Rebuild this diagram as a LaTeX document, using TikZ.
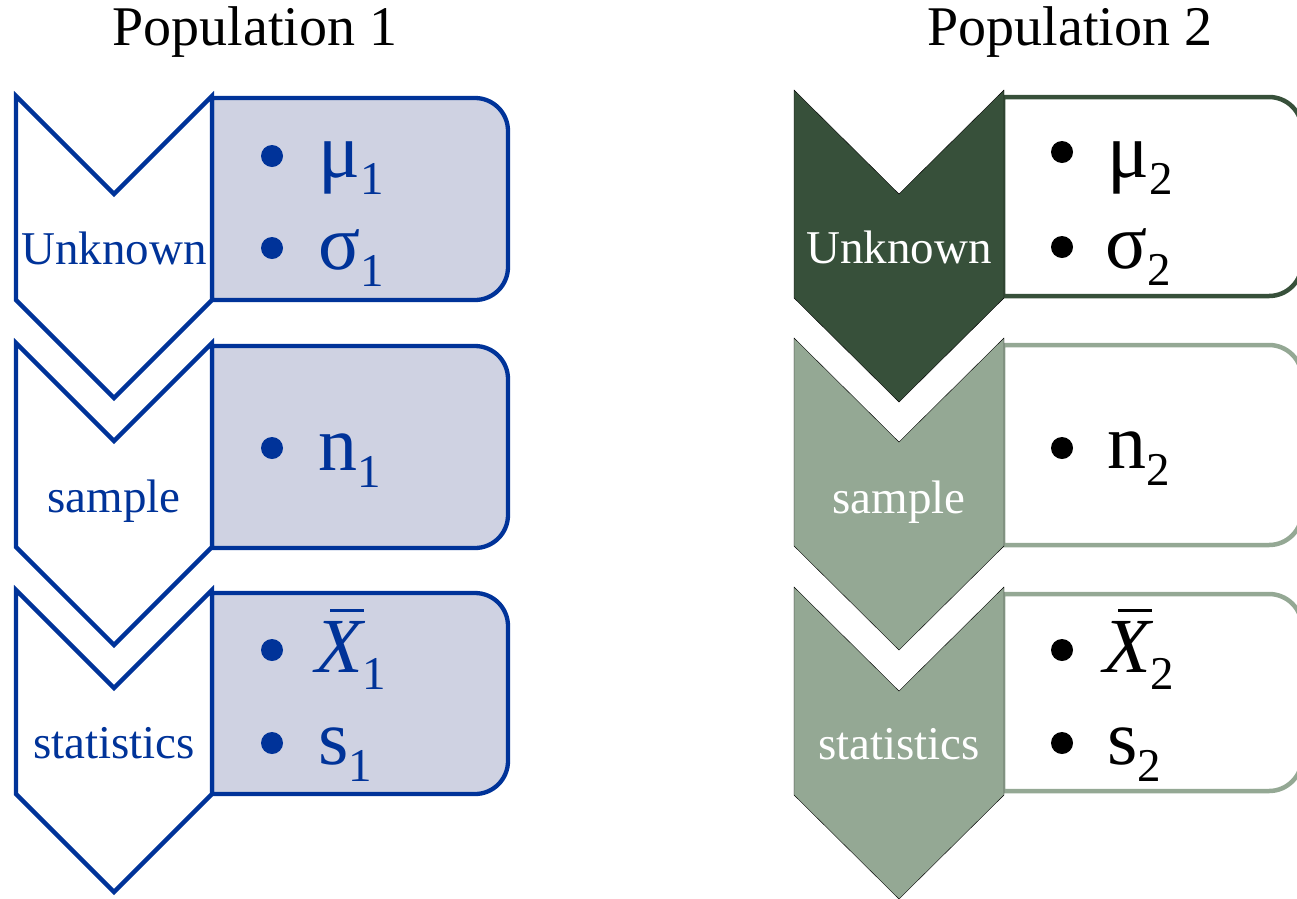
\documentclass[tikz,border=0pt]{standalone}
\usepackage{fontspec}
\setmainfont{Liberation Serif}

\definecolor{popblue}{RGB}{0,51,153}
\definecolor{popfill}{RGB}{207,210,226}
\definecolor{darkgreen}{RGB}{55,80,58}
\definecolor{lightgreen}{RGB}{148,168,148}

% lowered subscript digit
\newcommand{\lsub}[1]{\raisebox{-17pt}{\fontsize{47}{47}\selectfont #1}}
% italic X with a bar over it
\newcommand{\xbar}{\rlap{\hspace{15pt}\rule[60pt]{34pt}{3.5pt}}{\itshape X}}

% box with square left corners and rounded right corners
% #1 style, #2 left, #3 top, #4 right, #5 bottom
\newcommand{\sidebox}[5]{%
  \draw[#1] (#2,#3) -- ({#4-33},#3) arc[start angle=-90,end angle=0,radius=33]
    -- (#4,{#5-33}) arc[start angle=0,end angle=90,radius=33]
    -- (#2,#5) -- cycle;}

% downward chevron
% #1 style, #2 left, #3 right, #4 top, #5 depth, #6 side height
\newcommand{\chevron}[6]{%
  \draw[#1] (#2,#4) -- ({(#2+#3)/2},{#4+#5}) -- (#3,#4) -- (#3,{#4+#6})
    -- ({(#2+#3)/2},{#4+#6+#5}) -- (#2,{#4+#6}) -- cycle;}

\begin{document}
\begin{tikzpicture}[x=1pt,y=-1pt,
  bluechev/.style={draw=popblue,line width=4.3pt,fill=white,line join=miter},
  bluebox/.style={draw=popblue,line width=4.3pt,fill=popfill},
  darkchev/.style={fill=darkgreen},
  lightchev/.style={fill=lightgreen},
  darkbox/.style={draw=darkgreen,line width=4.5pt,fill=white},
  lightbox/.style={draw=lightgreen,line width=4.5pt,fill=white},
  chevlabel/.style={font=\fontsize{47}{47}\selectfont,anchor=base,inner sep=0pt},
  item/.style={font=\fontsize{78}{78}\selectfont,anchor=base west,inner sep=0pt},
  heading/.style={font=\fontsize{56}{56}\selectfont,anchor=base,inner sep=0pt},
]
\useasboundingbox (0,0) rectangle (1297,898);
\clip (0,0) rectangle (1297,898);

% headings
\node[heading] (title1) at (255,45) {Population 1};
\node[heading] (title2) at (1070,45) {Population 2};

% ---- Population 1 ----
\sidebox{bluebox}{212}{98}{508}{300}
\sidebox{bluebox}{212}{346}{508}{548}
\sidebox{bluebox}{212}{593}{508}{794}
\chevron{bluechev}{16}{212}{96}{98}{204}
\chevron{bluechev}{16}{212}{343}{98}{204}
\chevron{bluechev}{16}{212}{590}{98}{204}

\node[chevlabel,text=popblue] (unk1) at (114,264) {Unknown};
\node[chevlabel,text=popblue] (samp1) at (114,512) {sample};
\node[chevlabel,text=popblue] (stat1) at (114,758) {statistics};

\fill[popblue] (272,156) circle[radius=11];
\fill[popblue] (272,248) circle[radius=11];
\fill[popblue] (272,448) circle[radius=11];
\fill[popblue] (272,650) circle[radius=11];
\fill[popblue] (272,743) circle[radius=11];

\node[item,text=popblue] (mu1) at (318,177) {μ\lsub{1}};
\node[item,text=popblue] (sigma1) at (318,269) {σ\lsub{1}};
\node[item,text=popblue] (n1) at (318,470) {n\lsub{1}};
\node[item,text=popblue] (xbar1) at (315,672) {\xbar\lsub{1}};
\node[item,text=popblue] (s1) at (318,764) {s\lsub{1}};

% ---- Population 2 ----
\sidebox{darkbox}{1003}{97}{1302}{296}
\sidebox{lightbox}{1003}{345}{1302}{545}
\sidebox{lightbox}{1003}{594}{1302}{791}
\chevron{darkchev}{794}{1004}{90}{104}{208}
\chevron{lightchev}{794}{1004}{338}{104}{208}
\chevron{lightchev}{794}{1004}{587}{104}{208}

\node[chevlabel,text=white] (unk2) at (899,263) {Unknown};
\node[chevlabel,text=white] (samp2) at (899,513) {sample};
\node[chevlabel,text=white] (stat2) at (899,759) {statistics};

\fill[black] (1062,152) circle[radius=11];
\fill[black] (1062,247) circle[radius=11];
\fill[black] (1062,448) circle[radius=11];
\fill[black] (1062,650) circle[radius=11];
\fill[black] (1062,743) circle[radius=11];

\node[item] (mu2) at (1107,177) {μ\lsub{2}};
\node[item] (sigma2) at (1105,268) {σ\lsub{2}};
\node[item] (n2) at (1107,468) {n\lsub{2}};
\node[item] (xbar2) at (1103,672) {\xbar\lsub{2}};
\node[item] (s2) at (1107,764) {s\lsub{2}};
\end{tikzpicture}
\end{document}
